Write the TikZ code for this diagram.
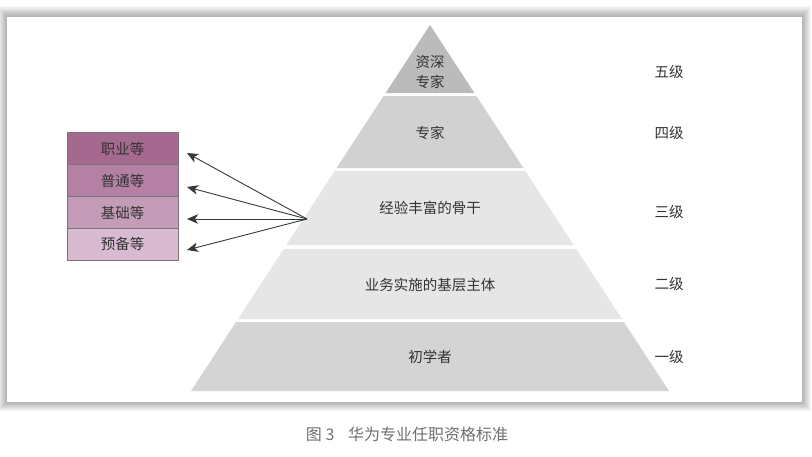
\documentclass[tikz,border=0pt]{standalone}
\usepackage{fontspec}
\setmainfont{Noto Sans CJK SC}
\usetikzlibrary{arrows.meta}
\definecolor{tfive}{HTML}{BCBBBC}
\definecolor{tfour}{HTML}{D1D1D1}
\definecolor{tthree}{HTML}{E6E6E6}
\definecolor{ttwo}{HTML}{E6E6E6}
\definecolor{tone}{HTML}{D4D4D4}
\definecolor{boxa}{HTML}{A5698F}
\definecolor{boxb}{HTML}{B480A4}
\definecolor{boxc}{HTML}{C49CB8}
\definecolor{boxd}{HTML}{D8BBD0}
\definecolor{boxline}{HTML}{7E7379}
\definecolor{txt}{HTML}{333333}
\definecolor{captxt}{HTML}{707070}
\definecolor{arr}{HTML}{343A3C}
\tikzset{
  tierlabel/.style={font=\fontsize{14.5}{16}\selectfont, text=txt, inner sep=0pt, align=center},
  levellabel/.style={font=\fontsize{14.5}{16}\selectfont, text=txt, inner sep=0pt},
  gradebox/.style={draw=boxline, line width=0.8pt, minimum width=111pt, minimum height=32pt, inner sep=0pt, font=\fontsize{14.5}{16}\selectfont, text=txt},
  arrowline/.style={draw=arr, line width=0.9pt, -{Stealth[length=11pt,width=9.5pt,inset=3pt]}},
}
\begin{document}
\begin{tikzpicture}[x=1pt,y=-1pt]
\useasboundingbox (0,0) rectangle (812,456);
\fill[white] (0,0) rectangle (812,456);
% panel shadow
\foreach \i in {1,...,9}{
  \fill[black, opacity=0.035] (7-\i,17-\i*1.2) rectangle (802+\i,402+\i);
}
\fill[white] (7,17) rectangle (802,402);
% pyramid tiers
\fill[tfive]  (430,25) -- (474.4,93) -- (385.6,93) -- cycle;
\fill[tfour]  (383.6,96) -- (476.4,96) -- (523.4,168) -- (336.6,168) -- cycle;
\fill[tthree] (334.7,171) -- (525.3,171) -- (573.7,245) -- (286.3,245) -- cycle;
\fill[ttwo]   (283.7,249) -- (576.3,249) -- (622,319) -- (238,319) -- cycle;
\fill[tone]   (236.1,322) -- (623.9,322) -- (669,391) -- (191,391) -- cycle;
% tier texts
\node[tierlabel] (t5) at (430,72) {资深\\[4pt]专家};
\node[tierlabel] (t4) at (430,133) {专家};
\node[tierlabel] (t3) at (430,208) {经验丰富的骨干};
\node[tierlabel] (t2) at (430,285) {业务实施的基层主体};
\node[tierlabel] (t1) at (430,357) {初学者};
% level labels
\node[levellabel] (l5) at (669,72) {五级};
\node[levellabel] (l4) at (669,133) {四级};
\node[levellabel] (l3) at (669,212) {三级};
\node[levellabel] (l2) at (669,284) {二级};
\node[levellabel] (l1) at (669,357) {一级};
% grade boxes
\node[gradebox, fill=boxa] (ga) at (122.5,148.5) {职业等};
\node[gradebox, fill=boxb] (gb) at (122.5,180.5) {普通等};
\node[gradebox, fill=boxc] (gc) at (122.5,212.5) {基础等};
\node[gradebox, fill=boxd] (gd) at (122.5,244) {预备等};
% arrows
\coordinate (src) at (307,219);
\coordinate (pa) at (187,153);
\coordinate (pb) at (187,187);
\coordinate (pc) at (187,219);
\coordinate (pd) at (187,250);
\draw[arrowline] (src) -- (pa);
\draw[arrowline] (src) -- (pb);
\draw[arrowline] (src) -- (pc);
\draw[arrowline] (src) -- (pd);
% caption
\node[font=\fontsize{16}{18}\selectfont, text=captxt, inner sep=0pt] (cap) at (407,434) {图 3\hspace{0.85em}华为专业任职资格标准};
\end{tikzpicture}
\end{document}
